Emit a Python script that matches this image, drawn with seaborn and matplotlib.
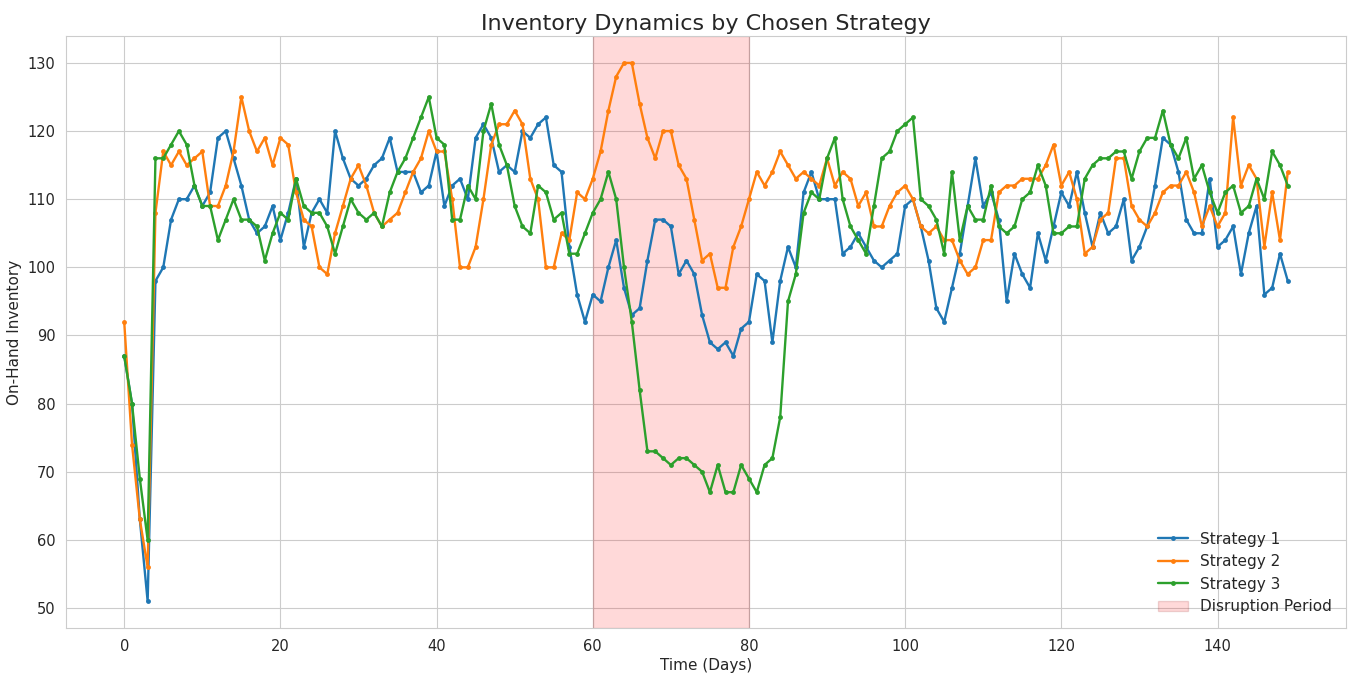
import numpy as np
import pandas as pd
import matplotlib
matplotlib.use("Agg")
import matplotlib.pyplot as plt
import seaborn as sns

days = list(range(150))

strategy_1 = [87, 80, 63, 51, 98, 100, 107, 110, 110, 112, 109, 111, 119, 120, 116, 112, 107, 105, 106, 109,
              104, 108, 113, 103, 108, 110, 108, 120, 116, 113, 112, 113, 115, 116, 119, 114, 114, 114, 111, 112,
              117, 109, 112, 113, 110, 119, 121, 119, 114, 115, 114, 120, 119, 121, 122, 115, 114, 103, 96, 92,
              96, 95, 100, 104, 97, 93, 94, 101, 107, 107, 106, 99, 101, 99, 93, 89, 88, 89, 87, 91,
              92, 99, 98, 89, 98, 103, 100, 111, 114, 110, 110, 110, 102, 103, 105, 103, 101, 100, 101, 102,
              109, 110, 106, 101, 94, 92, 97, 102, 109, 116, 109, 111, 107, 95, 102, 99, 97, 105, 101, 106,
              111, 109, 114, 108, 103, 108, 105, 106, 110, 101, 103, 106, 112, 119, 118, 114, 107, 105, 105, 113,
              103, 104, 106, 99, 105, 109, 96, 97, 102, 98]

strategy_2 = [92, 74, 63, 56, 108, 117, 115, 117, 115, 116, 117, 109, 109, 112, 117, 125, 120, 117, 119, 115,
              119, 118, 111, 107, 106, 100, 99, 105, 109, 113, 115, 112, 108, 106, 107, 108, 111, 114, 116, 120,
              117, 117, 110, 100, 100, 103, 110, 118, 121, 121, 123, 121, 113, 110, 100, 100, 105, 104, 111, 110,
              113, 117, 123, 128, 130, 130, 124, 119, 116, 120, 120, 115, 113, 107, 101, 102, 97, 97, 103, 106,
              110, 114, 112, 114, 117, 115, 113, 114, 113, 112, 116, 112, 114, 113, 109, 111, 106, 106, 109, 111,
              112, 110, 106, 105, 106, 104, 104, 101, 99, 100, 104, 104, 111, 112, 112, 113, 113, 113, 115, 118,
              112, 114, 110, 102, 103, 107, 108, 116, 116, 109, 107, 106, 108, 111, 112, 112, 114, 111, 106, 109,
              106, 108, 122, 112, 115, 113, 103, 111, 104, 114]

strategy_3 = [87, 80, 69, 60, 116, 116, 118, 120, 118, 112, 109, 109, 104, 107, 110, 107, 107, 106, 101, 105,
              108, 107, 113, 109, 108, 108, 106, 102, 106, 110, 108, 107, 108, 106, 111, 114, 116, 119, 122, 125,
              119, 118, 107, 107, 112, 110, 120, 124, 118, 115, 109, 106, 105, 112, 111, 107, 108, 102, 102, 105,
              108, 110, 114, 110, 100, 92, 82, 73, 73, 72, 71, 72, 72, 71, 70, 67, 71, 67, 67, 71,
              69, 67, 71, 72, 78, 95, 99, 108, 111, 110, 116, 119, 110, 106, 104, 102, 109, 116, 117, 120,
              121, 122, 110, 109, 107, 102, 114, 104, 109, 107, 107, 112, 106, 105, 106, 110, 111, 115, 112, 105,
              105, 106, 106, 113, 115, 116, 116, 117, 117, 113, 117, 119, 119, 123, 118, 116, 119, 113, 115, 111,
              108, 111, 112, 108, 109, 113, 110, 117, 115, 112]

strategy_names = ["Strategy 1", "Strategy 2", "Strategy 3"]
disruption_start, disruption_end = 60, 80

df = pd.DataFrame({
    "Day": days * 3,
    "Inventory": strategy_1 + strategy_2 + strategy_3,
    "Strategy": [strategy_names[0]] * 150 + [strategy_names[1]] * 150 + [strategy_names[2]] * 150,
})

sns.set_style("whitegrid")
plt.rcParams["font.family"] = ["DejaVu Sans"]

fig, ax = plt.subplots(figsize=(13.56, 6.74), dpi=100)
fig.subplots_adjust(left=0.0487, right=0.9926, top=0.9466, bottom=0.068)

palette = ["#1f77b4", "#ff7f0e", "#2ca02c"]
sns.lineplot(data=df, x="Day", y="Inventory", hue="Strategy", palette=palette,
             marker="o", markersize=3.5, markeredgewidth=0, linewidth=1.7, ax=ax)

ax.axvspan(disruption_start, disruption_end, facecolor="red", alpha=0.15,
           edgecolor="darkred", linewidth=1.0, label="Disruption Period")

handles, labels = ax.get_legend_handles_labels()
ax.legend(handles=handles, labels=labels, loc="lower right", frameon=False, fontsize=11)

ax.set_title("Inventory Dynamics by Chosen Strategy", fontsize=16, color="#262626", pad=4)
ax.set_xlabel("Time (Days)", fontsize=11, labelpad=3)
ax.set_ylabel("On-Hand Inventory", fontsize=11)
ax.tick_params(labelsize=10.5, pad=4)
for s in ax.spines.values():
    s.set_color("#cccccc")

fig.savefig("out.png", dpi=100)
